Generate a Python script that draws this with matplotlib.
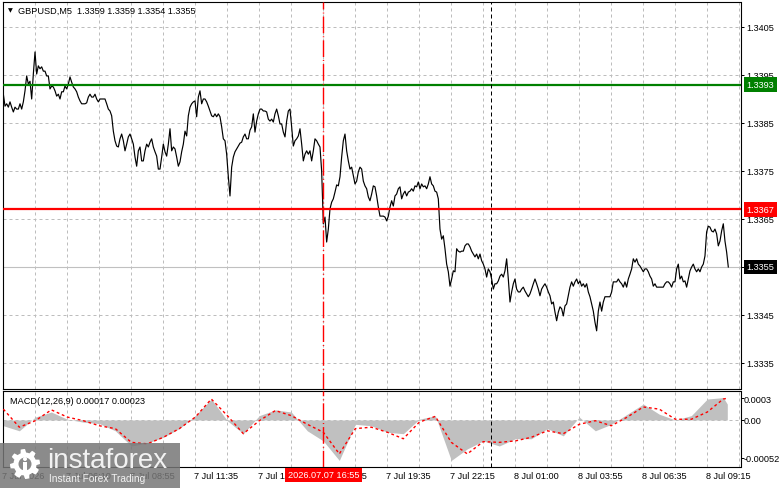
import matplotlib
matplotlib.use('Agg')
import matplotlib.pyplot as plt
import matplotlib.transforms as mtransforms
from matplotlib.patches import Rectangle, Circle, Polygon
import numpy as np

plt.rcParams['font.family'] = ['Liberation Sans', 'DejaVu Sans']

W, H = 781, 489

title = 'GBPUSD,M5  1.3359 1.3359 1.3354 1.3355'

# closes, one reading every 5/6 of an M5 bar
sample_step = 5 / 6
close = [
    1.33910, 1.33885, 1.33890, 1.33883, 1.33894, 1.33883, 1.33873, 1.33883, 1.33879, 1.33879,
    1.33890, 1.33879, 1.33894, 1.33917, 1.33948, 1.33931, 1.33937, 1.33900, 1.33952, 1.33998,
    1.33952, 1.33969, 1.33963, 1.33967, 1.33958, 1.33958, 1.33948, 1.33948, 1.33921, 1.33927,
    1.33925, 1.33917, 1.33906, 1.33910, 1.33900, 1.33915, 1.33915, 1.33927, 1.33921, 1.33931,
    1.33946, 1.33935, 1.33925, 1.33921, 1.33915, 1.33904, 1.33896, 1.33890, 1.33890, 1.33890,
    1.33892, 1.33904, 1.33910, 1.33904, 1.33904, 1.33910, 1.33900, 1.33894, 1.33900, 1.33900,
    1.33900, 1.33900, 1.33890, 1.33879, 1.33875, 1.33865, 1.33833, 1.33813, 1.33802, 1.33800,
    1.33817, 1.33827, 1.33813, 1.33792, 1.33806, 1.33821, 1.33827, 1.33817, 1.33806, 1.33779,
    1.33760, 1.33792, 1.33800, 1.33771, 1.33771, 1.33792, 1.33806, 1.33800, 1.33810, 1.33817,
    1.33800, 1.33790, 1.33781, 1.33754, 1.33754, 1.33779, 1.33806, 1.33790, 1.33781, 1.33806,
    1.33838, 1.33792, 1.33800, 1.33796, 1.33779, 1.33760, 1.33769, 1.33790, 1.33806, 1.33833,
    1.33823, 1.33865, 1.33883, 1.33890, 1.33894, 1.33896, 1.33863, 1.33904, 1.33917, 1.33890,
    1.33900, 1.33900, 1.33894, 1.33885, 1.33875, 1.33865, 1.33863, 1.33869, 1.33863, 1.33869,
    1.33863, 1.33842, 1.33817, 1.33813, 1.33785, 1.33738, 1.33698, 1.33758, 1.33779, 1.33790,
    1.33796, 1.33802, 1.33808, 1.33810, 1.33821, 1.33827, 1.33817, 1.33817, 1.33835, 1.33842,
    1.33869, 1.33831, 1.33854, 1.33869, 1.33879, 1.33879, 1.33875, 1.33875, 1.33873, 1.33858,
    1.33854, 1.33858, 1.33852, 1.33869, 1.33879, 1.33865, 1.33848, 1.33848, 1.33831, 1.33821,
    1.33854, 1.33875, 1.33879, 1.33842, 1.33802, 1.33813, 1.33817, 1.33823, 1.33838, 1.33806,
    1.33771, 1.33785, 1.33792, 1.33785, 1.33792, 1.33771, 1.33792, 1.33817, 1.33813, 1.33806,
    1.33800, 1.33750, 1.33640, 1.33654, 1.33602, 1.33629, 1.33671, 1.33685, 1.33692, 1.33706,
    1.33721, 1.33719, 1.33738, 1.33779, 1.33813, 1.33827, 1.33792, 1.33771, 1.33754, 1.33758,
    1.33740, 1.33723, 1.33729, 1.33748, 1.33758, 1.33754, 1.33729, 1.33719, 1.33713, 1.33696,
    1.33688, 1.33702, 1.33719, 1.33717, 1.33698, 1.33675, 1.33656, 1.33656, 1.33656, 1.33654,
    1.33646, 1.33656, 1.33675, 1.33688, 1.33677, 1.33698, 1.33702, 1.33713, 1.33717, 1.33692,
    1.33702, 1.33708, 1.33698, 1.33706, 1.33708, 1.33713, 1.33708, 1.33719, 1.33717, 1.33727,
    1.33713, 1.33723, 1.33717, 1.33719, 1.33713, 1.33723, 1.33738, 1.33723, 1.33719, 1.33708,
    1.33706, 1.33692, 1.33629, 1.33608, 1.33615, 1.33588, 1.33556, 1.33540, 1.33510, 1.33525,
    1.33542, 1.33540, 1.33588, 1.33583, 1.33581, 1.33583, 1.33583, 1.33594, 1.33598, 1.33598,
    1.33592, 1.33583, 1.33577, 1.33571, 1.33577, 1.33567, 1.33577, 1.33563, 1.33556, 1.33546,
    1.33529, 1.33546, 1.33540, 1.33525, 1.33504, 1.33515, 1.33515, 1.33521, 1.33531, 1.33535,
    1.33529, 1.33542, 1.33567, 1.33525, 1.33477, 1.33498, 1.33515, 1.33525, 1.33504, 1.33498,
    1.33498, 1.33504, 1.33508, 1.33500, 1.33494, 1.33488, 1.33494, 1.33504, 1.33515, 1.33525,
    1.33515, 1.33504, 1.33490, 1.33504, 1.33510, 1.33515, 1.33508, 1.33498, 1.33490, 1.33473,
    1.33477, 1.33456, 1.33438, 1.33456, 1.33467, 1.33463, 1.33448, 1.33469, 1.33473, 1.33490,
    1.33508, 1.33519, 1.33510, 1.33519, 1.33525, 1.33515, 1.33521, 1.33510, 1.33515, 1.33508,
    1.33515, 1.33498, 1.33488, 1.33473, 1.33458, 1.33435, 1.33417, 1.33458, 1.33477, 1.33458,
    1.33477, 1.33488, 1.33488, 1.33488, 1.33488, 1.33498, 1.33519, 1.33519, 1.33519, 1.33525,
    1.33519, 1.33515, 1.33508, 1.33519, 1.33508, 1.33525, 1.33535, 1.33546, 1.33567, 1.33560,
    1.33567, 1.33556, 1.33552, 1.33546, 1.33540, 1.33546, 1.33546, 1.33540, 1.33531, 1.33525,
    1.33510, 1.33515, 1.33508, 1.33508, 1.33508, 1.33508, 1.33508, 1.33515, 1.33519, 1.33519,
    1.33515, 1.33508, 1.33519, 1.33519, 1.33546, 1.33556, 1.33525, 1.33531, 1.33519, 1.33521,
    1.33508, 1.33525, 1.33542, 1.33550, 1.33556, 1.33546, 1.33540, 1.33546, 1.33540, 1.33550,
    1.33556, 1.33573, 1.33623, 1.33635, 1.33633, 1.33625, 1.33623, 1.33629, 1.33619, 1.33594,
    1.33604, 1.33625, 1.33640, 1.33604, 1.33581, 1.33550,
]

green_level = 1.3393
red_level = 1.3367
last_price = 1.3355
price_ticks = [1.3335, 1.3345, 1.3355, 1.3365, 1.3375, 1.3385, 1.3395, 1.3405]

# MACD(12,26,9), read every 8 bars
macd_bar = [0, 8, 16, 24, 32, 40, 48, 56, 64, 72, 80, 88, 96, 104, 112, 120, 128, 136, 144, 152,
            160, 168, 176, 184, 192, 200, 208, 216, 224, 232, 240, 248, 256, 264, 272, 280, 288,
            296, 304, 312, 320, 328, 336, 344, 352, 360, 362]
macd_hist = [-0.00008, -0.00015, 0.00004, 0.00011, 0.00001, -0.00003, -0.00005, -0.00015, -0.00036, -0.00032,
             -0.00024, -0.00012, 0.00006, 0.00029, -0.00001, -0.00019, 0.00006, 0.00014, 0.00011, -0.00015,
             -0.00029, -0.00056, -0.00006, -0.00008, -0.00017, -0.00019, 0.00001, 0.00006, -0.00056, -0.00040,
             -0.00029, -0.00036, -0.00026, -0.00026, -0.00012, -0.00022, 0.00004, -0.00015, -0.00006, 0.00008,
             0.00022, 0.00008, 0.0, 0.00006, 0.00029, 0.00031, 0.00022]
macd_signal = [0.00015, -0.00010, -0.00001, 0.00014, 0.00004, -0.00001, -0.00008, -0.00012, -0.00031, -0.00033,
               -0.00024, -0.00012, 0.00004, 0.00029, 0.00006, -0.00019, -0.00001, 0.00013, 0.00006, -0.00006,
               -0.00017, -0.00047, -0.00012, -0.00010, -0.00017, -0.00026, -0.00003, 0.00005, -0.00031, -0.00047,
               -0.00030, -0.00031, -0.00029, -0.00024, -0.00015, -0.00019, -0.00006, -0.00001, -0.00008, 0.00004,
               0.00018, 0.00015, 0.00001, 0.00001, 0.00011, 0.00029, 0.00030]
macd_ticks = [0.0003, 0.0, -0.00052]
macd_tick_labels = ['0.0003', '0.00', '-0.00052']
macd_title = 'MACD(12,26,9) 0.00017 0.00023'

time_bar = [0, 32, 64, 96, 128, 160, 192, 224, 256, 288, 320, 352]
time_labels = ['7 Jul 2026', '7 Jul 06:10', '7 Jul 08:55', '7 Jul 11:35', '7 Jul 14:15', '7 Jul 16:55',
               '7 Jul 19:35', '7 Jul 22:15', '8 Jul 01:00', '8 Jul 03:55', '8 Jul 06:35', '8 Jul 09:15']
red_vline_bar = 160
red_vline_label = '2026.07.07 16:55'
black_vline_bar = 244

FS = 6.6
GRID = dict(color='#bdbdbd', lw=0.72, ls=(0, (3, 3)), zorder=0)

fig = plt.figure(figsize=(W / 100, H / 100), dpi=100)
fig.patch.set_facecolor('white')

ax = fig.add_axes([3 / W, 1 - 390 / H, 737.5 / W, 387.3 / H])
ax2 = fig.add_axes([3 / W, 1 - 467.7 / H, 737.5 / W, 75.4 / H])

xlim = (-0.17, 368.6)
t = np.arange(len(close)) * sample_step

# ── price panel ──
for b in range(16, 369, 16):
    ax.axvline(b, **GRID)
    ax2.axvline(b, **GRID)
for p in price_ticks:
    ax.axhline(p, **GRID)

ax.plot(t, close, color='black', lw=0.85, zorder=3)
ax.axhline(last_price, color='#c0c0c0', lw=0.8, zorder=2)
ax.axhline(green_level, color='#008000', lw=1.6, zorder=4)
ax.axhline(red_level, color='#ff0000', lw=1.6, zorder=4)

ax.set_xlim(*xlim)
ax.set_ylim(1.332958, 1.341027)
ax.set_xticks([])
ax.yaxis.tick_right()
ax.set_yticks(price_ticks)
ax.set_yticklabels([f'{p:.4f}' for p in price_ticks])
ax.tick_params(axis='y', length=2.2, pad=2.2, labelsize=FS, width=0.72)

ybox = mtransforms.blended_transform_factory(ax.transAxes, ax.transData)
for lvl, fc in [(green_level, '#008000'), (red_level, '#ff0000'), (last_price, 'black')]:
    ax.text(1 + 6 / 737.5, lvl, f'{lvl:.4f}', transform=ybox, ha='left', va='center',
            fontsize=FS, color='white', zorder=10, clip_on=False,
            bbox=dict(boxstyle='square,pad=0.3', fc=fc, ec='none'))

fig.text(8 / W, 1 - 11 / H, '\u25bc', fontsize=4.5, family='DejaVu Sans', va='center', ha='left')
fig.text(18 / W, 1 - 11 / H, title, fontsize=FS, va='center', ha='left')

# ── MACD panel ──
ax2.axhline(0, **GRID)
ax2.fill_between(macd_bar, 0, macd_hist, color='#c0c0c0', lw=0, zorder=2)
ax2.plot(macd_bar, macd_signal, color='red', lw=1.0, ls=(0, (2, 2)), zorder=3)
ax2.set_xlim(*xlim)
ax2.set_ylim(-0.000647, 0.000397)
ax2.set_xticks([])
ax2.yaxis.tick_right()
ax2.set_yticks(macd_ticks)
ax2.set_yticklabels(macd_tick_labels)
ax2.tick_params(axis='y', length=2.2, pad=0.3, labelsize=FS, width=0.72)
ax2.text(7 / 737.5, 1 - 9 / 75.4, macd_title, transform=ax2.transAxes, fontsize=FS, va='center', ha='left')

for a in (ax, ax2):
    for s in a.spines.values():
        s.set_linewidth(0.8)
        s.set_color('black')
    a.axvline(red_vline_bar, color='red', lw=1.0, ls=(0, (12, 2.2, 0.7, 2.2)), zorder=5)
    a.axvline(black_vline_bar, color='black', lw=0.72, ls=(0, (4, 3)), zorder=5)

xt = mtransforms.blended_transform_factory(ax2.transData, fig.transFigure)
for b, lab in zip(time_bar, time_labels):
    ax2.text(b - 0.8, 1 - 477 / H, lab, transform=xt, fontsize=FS, ha='left', va='center', clip_on=False)
ax2.text(red_vline_bar, 1 - 476 / H, red_vline_label, transform=xt, fontsize=FS, color='white',
         ha='center', va='center', clip_on=False, zorder=10,
         bbox=dict(boxstyle='square,pad=0.3', fc='#ff0000', ec='none'))

# ── watermark ──
lg = fig.add_axes([0, 0, 180 / W, 45 / H], zorder=20)
lg.set_xlim(0, 180)
lg.set_ylim(0, 45)
lg.axis('off')
lg.add_patch(Rectangle((0, 0), 180, 45, fc='#777777', ec='none', alpha=0.85))
ang = np.linspace(0, 2 * np.pi, 64, endpoint=False)
rad = np.where((ang * 8 / (2 * np.pi)) % 1 < 0.5, 15, 11.5)
lg.add_patch(Polygon(np.c_[25 + rad * np.cos(ang), 24 + rad * np.sin(ang)], fc='white', ec='none'))
lg.add_patch(Circle((25, 24), 6.5, fc='#8b8b8b', ec='none'))
lg.add_patch(Rectangle((23.2, 16), 3.6, 10, fc='white', ec='none'))
lg.add_patch(Circle((25, 29), 2, fc='white', ec='none'))
lg.text(47, 28, 'instaforex', fontsize=20, color='#f2f2f2', ha='left', va='center')
lg.text(49, 10, 'Instant Forex Trading', fontsize=7.3, color='#f2f2f2', ha='left', va='center')

fig.savefig('out.png', dpi=100)
